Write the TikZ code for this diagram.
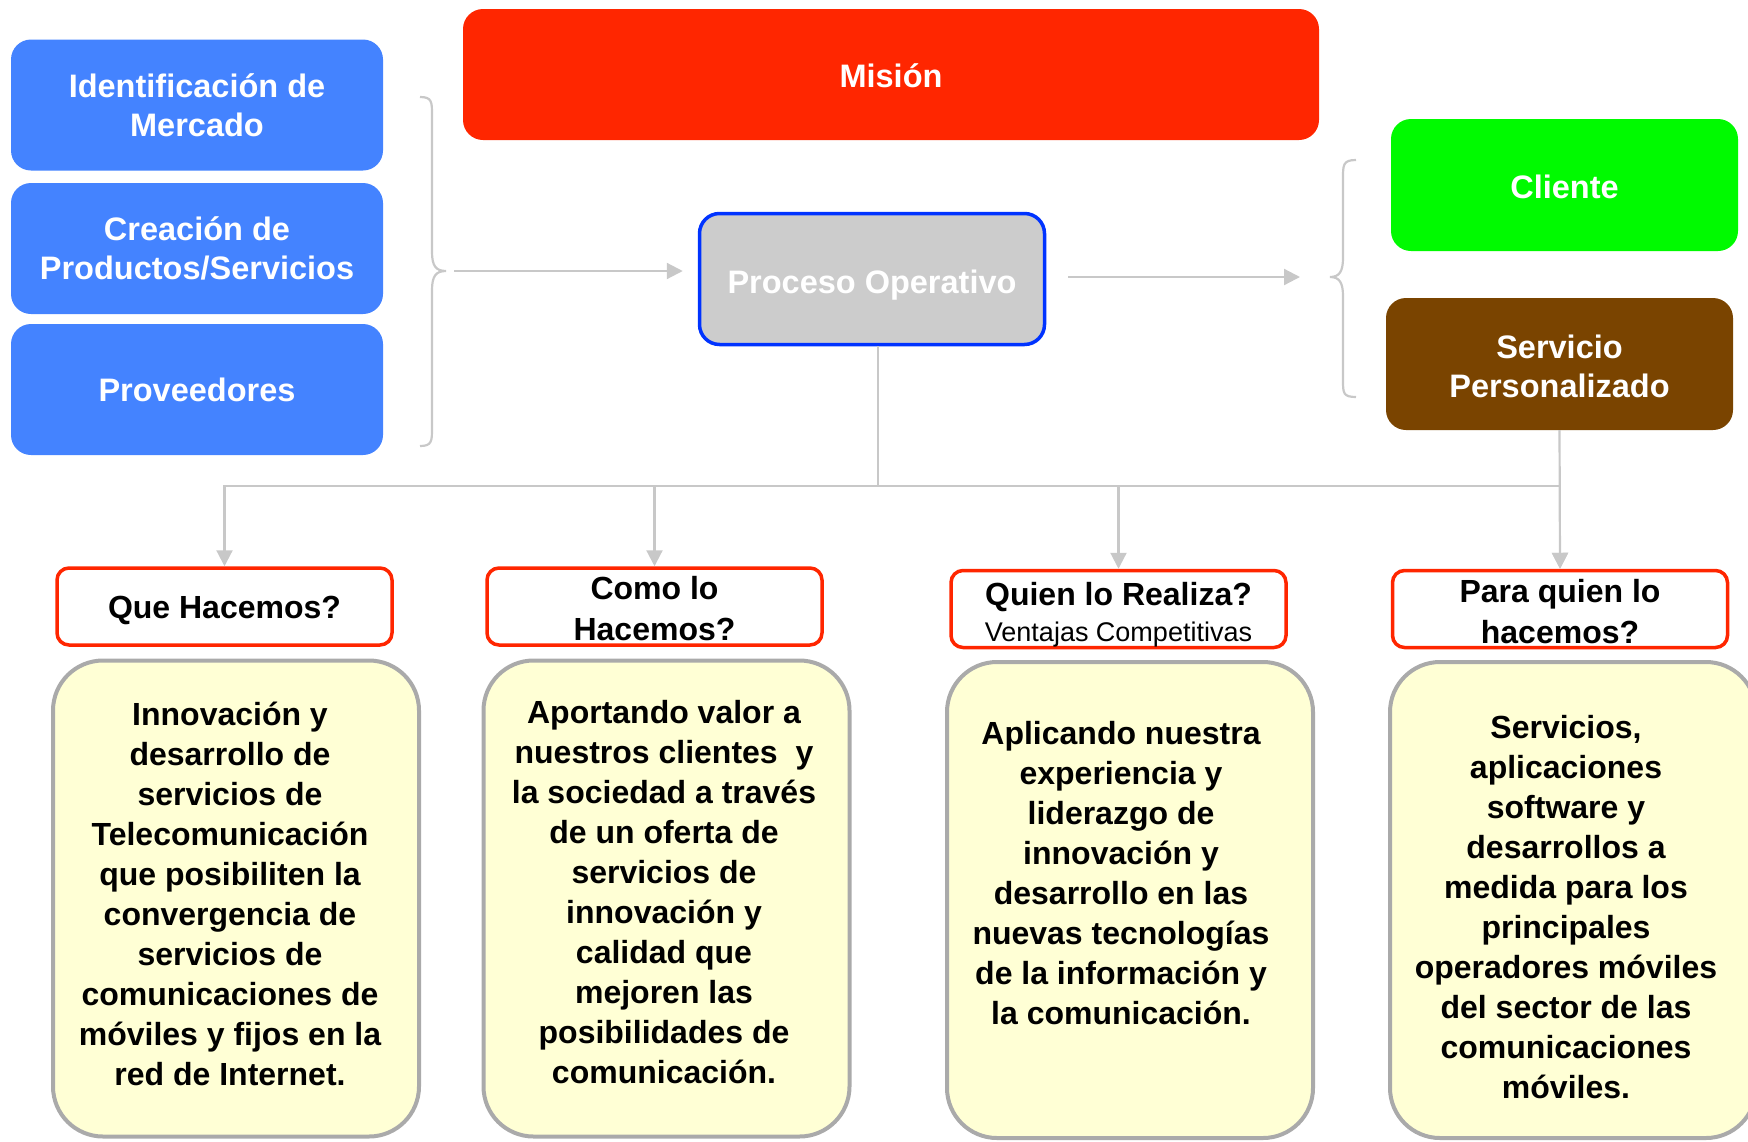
\documentclass[tikz,border=0pt]{standalone}
\usepackage{fontspec}
\setmainfont{Liberation Sans}
\usetikzlibrary{arrows.meta}
\definecolor{cBlue}{RGB}{68,131,255}
\definecolor{cRed}{RGB}{255,38,0}
\definecolor{cGreen}{RGB}{0,250,0}
\definecolor{cBrown}{RGB}{122,68,0}
\definecolor{cProcFill}{RGB}{204,204,204}
\definecolor{cProcLine}{RGB}{0,51,255}
\definecolor{cYellow}{RGB}{255,255,213}
\definecolor{cYLine}{RGB}{170,170,170}
\definecolor{cConn}{RGB}{200,200,200}
\newcommand\myfs[2]{\fontsize{#1}{#2}\selectfont}
\begin{document}
\begin{tikzpicture}[x=1pt,y=-1pt,
  every node/.style={inner sep=0pt, align=center},
  topbox/.style={rounded corners=20pt, minimum width=372pt, minimum height=131pt},
  toptext/.style={text=white, font=\bfseries\myfs{32.5}{39}},
  bluebox/.style={topbox, fill=cBlue},
  headbox/.style={draw=cRed, line width=3.5pt, fill=white, rounded corners=12pt,
    minimum width=335pt, minimum height=77pt},
  headtext/.style={font=\bfseries\myfs{32}{41}},
  ybox/.style={draw=cYLine, line width=4pt, fill=cYellow, rounded corners=50pt,
    minimum width=366pt, minimum height=476pt},
  ytext/.style={font=\bfseries\myfs{32}{40}},
  conn/.style={draw=cConn, line width=2.2pt},
  arr/.style={conn, -{Triangle[length=16pt,width=16pt]}}
]
\useasboundingbox (0,0) rectangle (1748,1141);

% left column
\node[bluebox, toptext] (id) at (197,105) {Identificación de\\Mercado};
\node[bluebox, toptext] (crea) at (197,248.5) {Creación de\\Productos/Servicios};
\node[bluebox, toptext] (prov) at (197,389.5) {Proveedores};

% mission
\node[topbox, fill=cRed, minimum width=856pt] (mision) at (891,74.5) {};
\node[toptext] (misiont) at ([yshift=-1.5pt]mision.center) {Misión};

% process
\node[rounded corners=20pt, fill=cProcFill, draw=cProcLine, line width=3.5pt,
  minimum width=345pt, minimum height=131pt] (proc) at (872,279) {};
\node[toptext] (proct) at ([yshift=-6pt]proc.center) {Proceso Operativo};

% right column
\node[topbox, fill=cGreen, minimum width=347pt, minimum height=132pt] (cli) at (1564.5,185) {};
\node[toptext] (clit) at ([yshift=-2pt]cli.center) {Cliente};
\node[topbox, fill=cBrown, minimum width=347pt, minimum height=132pt] (serv) at (1559.5,364) {};
\node[toptext] (servt) at ([yshift=-2pt]serv.center) {Servicio\\Personalizado};

% braces
\draw[conn] (420,97) .. controls (432,97) and (432,102) .. (432,115) -- (432,252)
  .. controls (432,266) and (436,271) .. (446,271)
  .. controls (436,271) and (432,276) .. (432,290) -- (432,428)
  .. controls (432,441) and (432,446) .. (420,446);
\draw[conn] (1356,160) .. controls (1343,160) and (1343,165) .. (1343,178) -- (1343,258)
  .. controls (1343,272) and (1339,277) .. (1330,277)
  .. controls (1339,277) and (1343,282) .. (1343,296) -- (1343,380)
  .. controls (1343,393) and (1343,397) .. (1356,397);

% horizontal arrows
\coordinate (inL) at (454,271);
\coordinate (outR) at (1300,277);
\draw[arr, shorten >=15pt] (inL) -- (proc.west |- inL);
\draw[arr, shorten <=22pt] (proc.east |- outR) -- (outR);

% header boxes
\node[headbox] (h1) at (224.5,606.5) {};
\node[headtext] (h1t) at ([yshift=-3.5pt]h1.center) {Que Hacemos?};
\node[headbox] (h2) at (654.5,606.5) {};
\node[headtext] (h2t) at ([yshift=-2.5pt]h2.center) {Como lo\\Hacemos?};
\node[headbox] (h3) at (1118.5,609) {};
\node[headtext] (h3t) at ([yshift=-5.5pt]h3.center) {Quien lo Realiza?\\[-5pt]{\mdseries\myfs{27}{32}Ventajas Competitivas}};
\node[headbox] (h4) at (1560,609) {};
\node[headtext] (h4t) at ([yshift=-2.5pt]h4.center) {Para quien lo\\hacemos?};

% tree connectors
\coordinate (bus) at (878,486);
\draw[conn] (proc.south -| bus) -- (bus);
\draw[arr] (bus) -| (h1.north);
\draw[arr] (bus) -| (h2.north);
\draw[arr] (bus) -| (h3.north);
\draw[arr] (bus) -| (h4.north);
\draw[arr] (serv.south) -- (h4.north);

% bottom boxes
\node[ybox] (b1) at (236,898.5) {};
\node[ybox] (b2) at (666.5,898.5) {};
\node[ybox] (b3) at (1130,900) {};
\node[ybox] (b4) at (1573,900) {};

\node[ytext] (t1) at (230,894) {Innovación y\\desarrollo de\\servicios de\\Telecomunicación\\que posibiliten la\\convergencia de\\servicios de\\comunicaciones de\\móviles y fijos en la\\red de Internet.};
\node[ytext] (t2) at (664,892) {Aportando valor a\\nuestros clientes~ y\\la sociedad a través\\de un oferta de\\servicios de\\innovación y\\calidad que\\mejoren las\\posibilidades de\\comunicación.};
\node[ytext] (t3) at (1121,873) {Aplicando nuestra\\experiencia y\\liderazgo de\\innovación y\\desarrollo en las\\nuevas tecnologías\\de la información y\\la comunicación.};
\node[ytext] (t4) at (1566,907) {Servicios,\\aplicaciones\\software y\\desarrollos a\\medida para los\\principales\\operadores móviles\\del sector de las\\comunicaciones\\móviles.};
\end{tikzpicture}
\end{document}
